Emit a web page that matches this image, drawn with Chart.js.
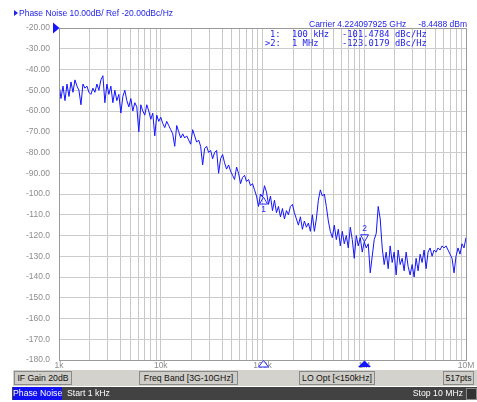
<!DOCTYPE html>
<html>
<head>
<meta charset="utf-8">
<title>Phase Noise</title>
<script src="https://cdn.jsdelivr.net/npm/chart.js@4.4.1/dist/chart.umd.min.js"></script>
<style>
  html, body { margin: 0; padding: 0; background: #fff; width: 477px; height: 402px; overflow: hidden; }
  #wrap { position: relative; width: 477px; height: 402px; font-family: "Liberation Sans", Arial, sans-serif; }
  #c { position: absolute; left: 0; top: 0; }
  .t { position: absolute; white-space: pre; font-size: 8.5px; line-height: 10px; }
  .blue { color: #2323e6; }
  .mono { font-family: "DejaVu Sans Mono", "Liberation Mono", monospace; font-size: 8.8px; }
  .tri { display: inline-block; width: 0; height: 0; border-top: 3px solid transparent; border-bottom: 3px solid transparent; border-left: 4px solid #2323e6; margin-right: 1px; vertical-align: 0px; }
  #bar1 { position: absolute; left: 13px; top: 370px; width: 464px; height: 16px; background: #d4d2cc; }
  #bar2 { position: absolute; left: 12px; top: 387px; width: 465px; height: 13px; background: #424242; }
  .box { position: absolute; top: 1px; height: 12px; border: 1px solid #8a8a8a; background: #cfcdc7; font-size: 8.7px; line-height: 12px; color: #111; text-align: center; white-space: pre; }
  .sb { position: absolute; top: 0; height: 13px; line-height: 13px; font-size: 8.7px; color: #fff; white-space: pre; }
</style>
</head>
<body>
<div id="wrap">
  <canvas id="c" width="477" height="402"></canvas>
  <div class="t blue" style="left:14px;top:8px"><span class="tri"></span>Phase Noise 10.00dB/ Ref -20.00dBc/Hz</div>
  <div class="t blue" style="left:309px;top:19px">Carrier 4.224097925 GHz</div>
  <div class="t blue" style="right:10px;top:19px">-8.4488 dBm</div>
  <div id="mtable"></div>
  <div id="bar1">
    <div class="box" style="left:1px;width:56px">IF Gain 20dB</div>
    <div class="box" style="left:126px;width:97px">Freq Band [3G-10GHz]</div>
    <div class="box" style="left:286px;width:74px">LO Opt [&lt;150kHz]</div>
    <div class="box" style="left:430px;width:29px">517pts</div>
  </div>
  <div id="bar2">
    <div class="sb" style="left:1px;width:49px;background:#1010f0;text-align:center">Phase Noise</div>
    <div class="sb" style="left:55px">Start 1 kHz</div>
    <div class="sb" style="right:14px">Stop 10 MHz</div>
    <div style="position:absolute;right:0;top:1px;width:9px;height:10px;border:1px solid #8a8a8a;background:#333"></div>
  </div>
</div>
<script>
// Sweep: 1 kHz to 10 MHz, log spaced
const sweepStartHz = 1e3;
const sweepStopHz = 1e7;

// Measured phase noise trace (dBc/Hz)
const phaseNoise = [
  -47, -54, -48, -55, -47, -53, -46, -51, -45, -48,
  -50, -57, -47, -49, -48, -51, -52, -49, -51, -47,
  -50, -45, -43, -56, -47, -52, -48, -56, -50, -55,
  -52, -61, -53, -50, -55, -58, -54, -60, -56, -58,
  -70, -57, -60, -62, -57, -60, -64, -61, -72, -62,
  -65, -63, -66, -68, -65, -67, -69, -71, -77, -67,
  -70, -73, -71, -73, -72, -74, -76, -69, -72, -75,
  -74, -77, -86, -78, -77, -80, -79, -83, -80, -79,
  -90, -83, -81, -85, -88, -86, -89, -91, -93, -87,
  -90, -95, -92, -91, -94, -93, -96, -95, -98, -101,
  -106, -100, -101.4784, -96, -99, -105, -101, -108, -103, -109,
  -106, -111, -107, -112, -108, -110, -106, -105, -109, -112,
  -115, -111, -117, -113, -116, -114, -118, -110, -118, -112,
  -103, -98, -101, -100, -106, -113, -118, -121, -115, -122,
  -117, -125, -118, -124, -120, -126, -116, -122, -131, -120,
  -125, -121, -128, -123.0179, -126, -124, -138, -130, -122, -119,
  -106, -112, -126, -134, -128, -136, -125, -133, -128, -139,
  -127, -134, -131, -137, -128, -135, -139, -134, -140, -131,
  -137, -129, -133, -127, -136, -128, -126, -130, -127, -128,
  -126, -127, -125, -126, -125, -127, -129, -131, -138, -130,
  -126, -129, -124, -126, -121
];

// Markers
const markerNames = ["1", "2"];
const markerFreqs = [1e5, 1e6];
const markerFreqText = ["100 kHz", "1 MHz"];
const markerValues = [-101.4784, -123.0179];
const activeMarker = 1;

// Axis settings
const refLevel = -20;
const yMin = -180;
const yStep = 10;
const decadeValues = [1e3, 1e4, 1e5, 1e6, 1e7];
const decadeLabels = ["1k", "10k", "100k", "1M", "10M"];

const nPts = phaseNoise.length;
const lgStart = Math.log10(sweepStartHz), lgStop = Math.log10(sweepStopHz);
const freqs = phaseNoise.map((_, i) => Math.pow(10, lgStart + (lgStop - lgStart) * i / (nPts - 1)));
freqs[102] = 1e5; freqs[153] = 1e6;

// grid at 1..9 x each decade
const gridFreqs = [];
for (let d = 0; d < decadeValues.length - 1; d++) {
  for (let m = 1; m <= 9; m++) gridFreqs.push(m * decadeValues[d]);
}
gridFreqs.push(decadeValues[decadeValues.length - 1]);

// marker readout table
const mt = document.getElementById('mtable');
markerNames.forEach((n, k) => {
  const top = 29 + k * 8.7;
  const cells = [
    [(k === activeMarker ? ">" : "") + n + ":", k === activeMarker ? 265 : 270],
    [markerFreqText[k], 292],
    [markerValues[k].toFixed(4), 342],
    ["dBc/Hz", 395]
  ];
  cells.forEach(([txt, left]) => {
    const d = document.createElement('div');
    d.className = 't blue mono';
    d.style.left = left + 'px';
    d.style.top = top + 'px';
    d.textContent = txt;
    mt.appendChild(d);
  });
});

const BLUE = '#1414ff';
const tickFont = { family: '"Liberation Sans", Arial, sans-serif', size: 8.5 };

const overlay = {
  id: 'overlay',
  afterDraw(chart) {
    const { ctx, chartArea: a, scales: { x, y } } = chart;
    ctx.save();
    // frame
    ctx.strokeStyle = '#9a9a9a';
    ctx.lineWidth = 1;
    ctx.strokeRect(a.left + 0.5, a.top + 0.5, a.right - a.left, a.bottom - a.top);
    // reference level pointer
    const ry = y.getPixelForValue(refLevel);
    ctx.fillStyle = BLUE;
    ctx.beginPath();
    ctx.moveTo(a.left - 6, ry - 5.5);
    ctx.lineTo(a.left + 0.5, ry);
    ctx.lineTo(a.left - 6, ry + 5.5);
    ctx.closePath();
    ctx.fill();
    // trace markers
    ctx.strokeStyle = '#2a2aff';
    ctx.fillStyle = '#2a2aff';
    ctx.font = '8.5px "Liberation Sans", Arial, sans-serif';
    ctx.textAlign = 'center';
    ctx.textBaseline = 'middle';
    markerFreqs.forEach((f, k) => {
      const px = Math.round(x.getPixelForValue(f)) + 0.5;
      const py = y.getPixelForValue(markerValues[k]);
      const dir = k === 0 ? 1 : -1;
      ctx.beginPath();
      ctx.moveTo(px, py);
      ctx.lineTo(px - 4, py + 7 * dir);
      ctx.lineTo(px + 4, py + 7 * dir);
      ctx.closePath();
      ctx.stroke();
      ctx.fillText(markerNames[k], px, py + 13 * dir);
      // indicator on the frequency axis
      const w = k === activeMarker ? 6.5 : 5;
      ctx.beginPath();
      ctx.moveTo(px, a.bottom + 0.5);
      ctx.lineTo(px - w, a.bottom + 7);
      ctx.lineTo(px + w, a.bottom + 7);
      ctx.closePath();
      if (k === activeMarker) { ctx.fillStyle = BLUE; ctx.fill(); ctx.fillStyle = '#2a2aff'; }
      else { ctx.fillStyle = '#fff'; ctx.fill(); ctx.stroke(); ctx.fillStyle = '#2a2aff'; }
    });
    ctx.restore();
  }
};

new Chart(document.getElementById('c'), {
  type: 'line',
  data: {
    datasets: [{
      data: freqs.map((f, i) => ({ x: f, y: phaseNoise[i] })),
      borderColor: BLUE,
      borderWidth: 1,
      pointRadius: 0,
      fill: false,
      tension: 0
    }]
  },
  options: {
    responsive: false,
    animation: false,
    devicePixelRatio: 1,
    layout: { padding: { top: 28, right: 11, left: 0, bottom: 0 } },
    plugins: { legend: { display: false }, tooltip: { enabled: false } },
    scales: {
      x: {
        type: 'logarithmic',
        min: sweepStartHz,
        max: sweepStopHz,
        afterBuildTicks: s => { s.ticks = gridFreqs.map(v => ({ value: v })); },
        afterFit: s => { s.height = 42; },
        grid: { color: '#c8c8c8', lineWidth: 1, drawTicks: false },
        border: { display: false },
        ticks: {
          autoSkip: false, maxRotation: 0, minRotation: 0, padding: 1,
          color: '#8c8c8c', font: tickFont,
          callback: v => { const k = decadeValues.indexOf(v); return k < 0 ? '' : decadeLabels[k]; }
        }
      },
      y: {
        min: yMin,
        max: refLevel,
        afterFit: s => { s.width = 59; },
        grid: { color: '#cccccc', lineWidth: 1, drawTicks: false },
        border: { display: false },
        ticks: {
          stepSize: yStep, padding: 9, color: '#8c8c8c', font: tickFont,
          callback: v => v > -100 ? v.toFixed(2) : v.toFixed(1)
        }
      }
    }
  },
  plugins: [overlay]
});
</script>
</body>
</html>
